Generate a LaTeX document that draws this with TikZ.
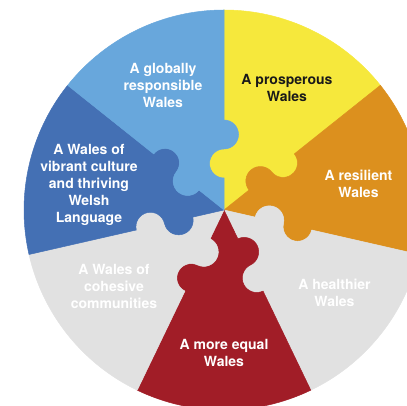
\documentclass[tikz,border=0pt]{standalone}
\usepackage{fontspec}
\setmainfont{TeX Gyre Heros}
\definecolor{cyellow}{RGB}{246,232,60}
\definecolor{corange}{RGB}{220,144,30}
\definecolor{cgrey}{RGB}{225,225,225}
\definecolor{cred}{RGB}{161,29,39}
\definecolor{cdblue}{RGB}{68,112,180}
\definecolor{clblue}{RGB}{104,167,220}
\definecolor{ctext}{RGB}{25,25,25}
\begin{document}
\begin{tikzpicture}[x=1pt,y=1pt,
  lbl/.style={font=\bfseries\fontsize{14}{17}\selectfont, align=center, text=white, inner sep=0pt},
  piece/.style={fill=#1, draw=#1, line width=0.5pt, line join=round}]
\useasboundingbox (0,0) rectangle (407,406);
\coordinate (C) at (224,196);
\def\R{200}
\def\r{14.5}
% puzzle-piece sectors: cw boundary angle \a, ccw boundary angle \b
\foreach \a/\b/\col in {38.5714/90/cyellow, -12.8571/38.5714/corange, -64.2857/-12.8571/cgrey, -115.7143/-64.2857/cred, -167.1429/-115.7143/cgrey, -218.5714/-167.1429/cdblue, -270/-218.5714/clblue}{
  \path[piece=\col] (C) -- ++(\a:32)
     arc[start angle=\a+180, end angle=\a, radius=\r]
     arc[start angle=\a+180, end angle=\a+360, radius=\r]
     -- ++(\a:110)
     arc[start angle=\a, end angle=\b, radius=\R]
     -- ++(\b+180:110)
     arc[start angle=\b+360, end angle=\b+180, radius=\r]
     arc[start angle=\b, end angle=\b+180, radius=\r]
     -- cycle;
}
% labels
\node[lbl] (gr) at (163,321) {A globally\\responsible\\Wales};
\node[lbl,text=ctext] (pr) at (287,318) {A prosperous\\Wales};
\node[lbl] (rs) at (358.5,222) {A resilient\\Wales};
\node[lbl] (hw) at (334.5,113.5) {A healthier\\Wales};
\node[lbl] (me) at (224,53) {A more equal\\Wales};
\node[lbl] (cc) at (114,120) {A Wales of\\cohesive\\communities};
\node[lbl] (vc) at (89,221) {A Wales of\\vibrant culture\\and thriving\\Welsh\\Language};
\end{tikzpicture}
\end{document}
